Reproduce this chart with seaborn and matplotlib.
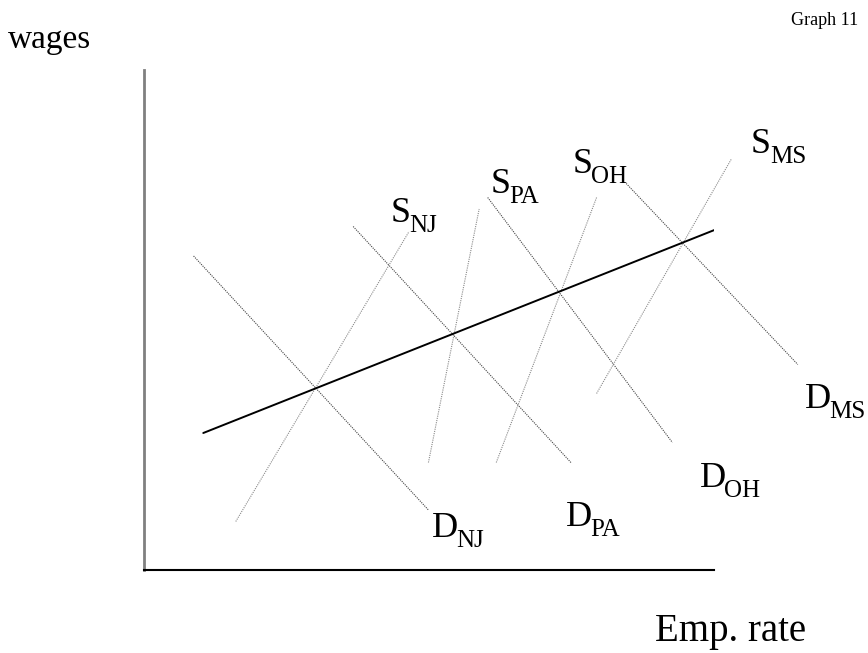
import matplotlib
matplotlib.use("Agg")
import matplotlib.pyplot as plt
import seaborn as sns
import pandas as pd

# wage/employment diagram, axes run 0..10 on both scales
states = ["NJ", "PA", "OH", "MS"]

# supply curves: (x0, y0) bottom end -> (x1, y1) top end
supply_x0 = [1.61, 4.99, 6.18, 7.94]
supply_y0 = [0.97, 2.15, 2.15, 3.53]
supply_x1 = [4.65, 5.88, 7.94, 10.31]
supply_y1 = [6.77, 7.22, 7.45, 8.23]

# demand curves: top-left end -> bottom-right end
demand_x0 = [0.87, 3.67, 6.03, 8.46]
demand_y0 = [6.28, 6.87, 7.45, 7.73]
demand_x1 = [4.99, 7.49, 9.27, 11.47]
demand_y1 = [1.20, 2.15, 2.55, 4.11]

# line through the equilibria
trend_x = [1.04, 10.14]
trend_y = [2.74, 6.86]

# label anchors (left, baseline of the big letter)
s_label_x = [4.32, 6.08, 7.52, 10.65]
s_label_y = [6.96, 7.54, 7.94, 8.34]
d_label_x = [5.05, 7.40, 9.75, 11.60]
d_label_y = [0.66, 0.88, 1.66, 3.24]

sns.set_style("white")
plt.rcParams["font.family"] = ["Liberation Serif", "DejaVu Serif"]
plt.rcParams["text.color"] = "black"

fig = plt.figure(figsize=(8.68, 6.53), dpi=100)
ax = fig.add_axes([144 / 868, 83 / 653, 570 / 868, 500 / 653])

rows = []
for i, st in enumerate(states):
    rows.append(dict(curve="S" + st, kind="S", x=supply_x0[i], y=supply_y0[i]))
    rows.append(dict(curve="S" + st, kind="S", x=supply_x1[i], y=supply_y1[i]))
    rows.append(dict(curve="D" + st, kind="D", x=demand_x0[i], y=demand_y0[i]))
    rows.append(dict(curve="D" + st, kind="D", x=demand_x1[i], y=demand_y1[i]))
df = pd.DataFrame(rows)

for name, seg in df.groupby("curve"):
    col = "#8a8a8a" if seg["kind"].iloc[0] == "S" else "#444444"
    sns.lineplot(data=seg, x="x", y="y", ax=ax, color=col, linewidth=0.8,
                 linestyle=(0, (1, 1)), clip_on=False, legend=False)

sns.lineplot(x=trend_x, y=trend_y, ax=ax, color="black", linewidth=1.4)


def curve_label(x, y, letter, sub, dx):
    ax.text(x, y, letter, fontsize=26, ha="left", va="baseline",
            color="black", clip_on=False)
    ax.annotate(sub, xy=(x, y), xytext=(dx, -7), textcoords="offset points",
                fontsize=18, ha="left", va="baseline", color="black",
                annotation_clip=False)


for i, st in enumerate(states):
    curve_label(s_label_x[i], s_label_y[i], "S", st, 13.5)
    curve_label(d_label_x[i], d_label_y[i], "D", st, 17.5)

ax.set_xlim(0, 10)
ax.set_ylim(0, 10)
ax.set_xticks([])
ax.set_yticks([])
ax.set_xlabel("")
ax.set_ylabel("")
sns.despine(ax=ax)
ax.spines["left"].set_color("#808080")
ax.spines["left"].set_linewidth(2)
ax.spines["bottom"].set_color("black")
ax.spines["bottom"].set_linewidth(1.5)

fig.text(8 / 868, 1 - 48 / 653, "wages", fontsize=24, ha="left", va="baseline")
fig.text(655 / 868, 1 - 641 / 653, "Emp. rate", fontsize=28, ha="left", va="baseline")
fig.text(858 / 868, 1 - 25 / 653, "Graph 11", fontsize=13, ha="right", va="baseline")

fig.savefig("out.png", dpi=100)
